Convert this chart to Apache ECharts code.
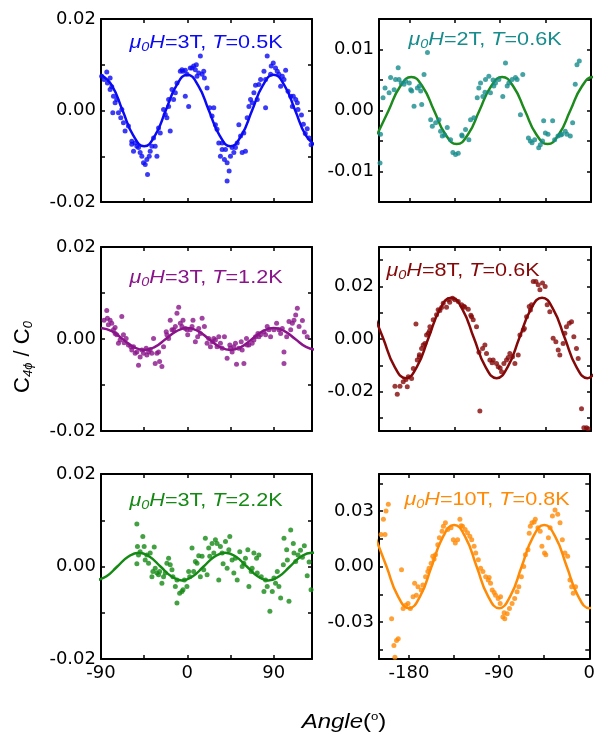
<!DOCTYPE html>
<html>
<head>
<meta charset="utf-8">
<script src="https://cdn.jsdelivr.net/npm/echarts@6/dist/echarts.min.js"></script>
<style>
  html, body { margin: 0; padding: 0; background: #fff; }
  #chart { width: 598px; height: 738px; }
</style>
</head>
<body>
<div id="chart"></div>
<script>
// ---- data ----
// fit curves [angle, C4phi/C0]
const fit1 = [[-90,0.0078],[-78.75,0.0055],[-67.5,0],[-56.25,-0.0055],[-45,-0.0078],[-33.75,-0.0055],[-22.5,0],[-11.25,0.0055],[0,0.0078],[11.25,0.0055],[22.5,0],[33.75,-0.0055],[45,-0.0078],[56.25,-0.0055],[67.5,0],[78.75,0.0055],[90,0.0078],[101.25,0.0055],[112.5,0],[123.75,-0.0055],[135,-0.0078]];
const fit2 = [[-211.75,-0.0039],[-200.5,0],[-189.25,0.0039],[-178,0.0055],[-166.75,0.0039],[-155.5,0],[-144.25,-0.0039],[-133,-0.0055],[-121.75,-0.0039],[-110.5,0],[-99.25,0.0039],[-88,0.0055],[-76.75,0.0039],[-65.5,0],[-54.25,-0.0039],[-43,-0.0055],[-31.75,-0.0039],[-20.5,0],[-9.25,0.0039],[2,0.0055],[13.25,0.0039]];
const fit3 = [[-90,0.0024],[-78.75,0.0017],[-67.5,0],[-56.25,-0.0017],[-45,-0.0024],[-33.75,-0.0017],[-22.5,0],[-11.25,0.0017],[0,0.0024],[11.25,0.0017],[22.5,0],[33.75,-0.0017],[45,-0.0024],[56.25,-0.0017],[67.5,0],[78.75,0.0017],[90,0.0024],[101.25,0.0017],[112.5,0],[123.75,-0.0017],[135,-0.0024]];
const fit4 = [[-217.25,0.0112],[-206,0.0004],[-194.75,-0.0104],[-183.5,-0.0149],[-172.25,-0.0104],[-161,0.0004],[-149.75,0.0112],[-138.5,0.0157],[-127.25,0.0112],[-116,0.0004],[-104.75,-0.0104],[-93.5,-0.0149],[-82.25,-0.0104],[-71,0.0004],[-59.75,0.0112],[-48.5,0.0157],[-37.25,0.0112],[-26,0.0004],[-14.75,-0.0104],[-3.5,-0.0149],[7.75,-0.0104]];
const fit5 = [[-95.5,-0.003],[-84.25,-0.0021],[-73,0],[-61.75,0.0021],[-50.5,0.003],[-39.25,0.0021],[-28,0],[-16.75,-0.0021],[-5.5,-0.003],[5.75,-0.0021],[17,0],[28.25,0.0021],[39.5,0.003],[50.75,0.0021],[62,0],[73.25,-0.0021],[84.5,-0.003],[95.75,-0.0021],[107,0],[118.25,0.0021],[129.5,0.003],[140.75,0.0021]];
const fit6 = [[-213.75,0.0159],[-202.5,0],[-191.25,-0.0159],[-180,-0.0225],[-168.75,-0.0159],[-157.5,0],[-146.25,0.0159],[-135,0.0225],[-123.75,0.0159],[-112.5,0],[-101.25,-0.0159],[-90,-0.0225],[-78.75,-0.0159],[-67.5,0],[-56.25,0.0159],[-45,0.0225],[-33.75,0.0159],[-22.5,0],[-11.25,-0.0159],[0,-0.0225],[11.25,-0.0159]];

// measured points [angle, C4phi/C0]
const dots1 = [[-84,0.0084],[-80.5,0.0071],[-83.3,0.006],[-78.8,0.0052],[-77,0.0031],[-73.6,0.0024],[-77.7,-0.0005],[-71.8,-0.0005],[-69.4,-0.0016],[-66.6,-0.0027],[-64.9,-0.0045],[-61.4,-0.0034],[-57.9,-0.0067],[-56.1,-0.0089],[-52.6,-0.0078],[-49.2,-0.0092],[-45.7,-0.0114],[-43.9,-0.0118],[-41.5,-0.014],[-38.7,-0.0089],[-35.2,-0.006],[-33.5,-0.0078],[-31.7,-0.01],[-28.2,-0.0049],[-24.8,0.0002],[-21.3,-0.0016],[-19.5,0.0009],[-17.8,-0.0045],[-16,0.0046],[-14.3,0.0024],[-10.8,0.006],[-7.3,0.0086],[-5.6,0.0089],[-2.1,0.0031],[-0.3,0.0079],[1.4,0.0009],[3.1,0.0093],[6.6,0.0097],[9.4,0.01],[11.9,0.0082],[13.6,0.0119],[17.1,0.0086],[20.6,0.0049],[23.4,0.0006],[27.6,0.0006],[31,-0.0041],[32.8,-0.0071],[34.5,-0.01],[36.3,-0.0085],[38.7,-0.0107],[41.5,-0.0114],[43.6,-0.0132],[41.5,-0.0154],[45,-0.01],[48.5,-0.0092],[50.2,-0.0081],[53.7,-0.0031],[57.2,-0.0092],[60.6,-0.0089],[62.4,-0.0016],[64.2,0.0009],[65.9,0.0024],[69.4,0.0039],[71.1,0.0055],[72.9,0.0024],[76.4,0.0068],[79.9,0.0086],[81.6,0.0006],[83.3,0.0119],[86.8,0.0079],[89.6,0.0104],[92,0.0093],[95.5,0.0079],[97.3,0.0053],[102.5,0.0088],[100.8,0.0068],[105,0.0042],[107.8,0.0031],[109.5,0.0009],[113,0.0024],[115.4,0.0002],[119,-0.001],[121,-0.003],[123,-0.005],[125,-0.004],[127,-0.006],[129,-0.0075],
  [-4.5,0.0086],[-2.1,0.0088],[4.9,0.0093],[8.4,0.0089],[10.1,0.0075],[15.4,0.0079],[17.8,0.0071],[-12.5,0.0039],[-19.5,0.0024],[-23,-0.0009],[-30,-0.0038],[-57.9,-0.0074],[-54.4,-0.0071],[-50.9,-0.0081],[-47.4,-0.01],[-42.2,-0.0107],[-39.7,-0.01],[-36.9,-0.0078],[-68.3,0.0002],[-75.3,0.0017],[-80.5,0.0046],[-86.8,0.0068],[-89.3,0.0075],[25.8,-0.0012],[29.3,-0.0031],[36.3,-0.0071],[39.8,-0.0085],[46.7,-0.0081],[52,-0.0071],[55.5,-0.0056],[58.9,-0.0049],[67.6,0.0017],[74.6,0.0057],[81.6,0.0068],[87.5,0.0097],[93.8,0.0086],[99,0.0075],[110.5,0.0031],[114.7,0.0017]];
const dots2 = [[-209,-0.0086],[-208.5,-0.0039],[-206,0.0021],[-204,0.0037],[-200,0.0029],[-198.5,0.0054],[-195,0.0034],[-193.6,0.0051],[-191,0.007],[-190.2,0.0051],[-185.2,0.0043],[-183.6,0.0048],[-178.6,0.0034],[-177.6,0.0032],[-175.3,0.0007],[-172,0.0037],[-168.7,0.0032],[-167.7,0.001],[-165.4,0.0059],[-162,0.0095],[-158.8,-0.0015],[-157.2,-0.0026],[-153.9,-0.002],[-150.6,-0.0015],[-149,-0.0034],[-147.3,-0.0042],[-142.4,-0.0028],[-139.1,-0.0048],[-136.8,-0.0069],[-134.2,-0.0072],[-131.5,-0.007],[-127.6,-0.0042],[-124.3,-0.0031],[-121,-0.0048],[-119.3,-0.0015],[-116,-0.0012],[-112.7,0.0021],[-111.1,0.0037],[-109.4,0.0045],[-107.1,0.0023],[-104.5,0.0051],[-101.2,0.0056],[-99.6,0.0029],[-96.3,0.004],[-94.6,0.0045],[-91.3,0.0051],[-87.4,0.0023],[-84.7,0.0078],[-81.4,0.0045],[-78.1,0.0051],[-74.8,0.0054],[-73.2,0.0051],[-69.9,-0.0007],[-67.6,0.0059],[-60.1,-0.005],[-58.4,-0.0053],[-55.8,-0.0048],[-51.8,-0.0061],[-50.2,-0.0056],[-46.9,-0.0017],[-45.2,-0.0037],[-42.6,-0.0039],[-38,-0.0017],[-36,-0.0048],[-32.7,-0.0042],[-28.8,-0.0039],[-25.5,-0.0034],[-23.8,-0.0039],[-20.5,-0.0042],[-18.2,-0.002],[-15.6,0.0043],[-13.9,0.0075],[-11.6,0.0081],
  [-188,0.0045],[-180,0.0045],[-170,0.004],[-145,-0.004],[-128,-0.004],[-105,0.003],[-97,0.005],[-83,0.004],[-62,-0.0045],[-48,-0.005],[-30,-0.004]];
const dots3 = [[-84,0.0062],[-83.3,0.0045],[-80.5,0.0041],[-78.8,0.0034],[-77,0.002],[-75.3,0.0025],[-73.6,0.0009],[-71.8,-0.0009],[-68.3,0.0049],[-66.6,0.0009],[-63.8,0.0001],[-61.4,-0.0013],[-57.9,-0.0024],[-56.1,-0.0017],[-52.6,-0.0028],[-50.9,-0.0057],[-49.2,-0.0039],[-45.7,-0.0031],[-42.9,-0.002],[-40.4,-0.0028],[-37,-0.0031],[-35.2,0.0001],[-33.5,-0.0053],[-31.7,-0.0031],[-28.9,-0.0049],[-26.5,-0.006],[-24.8,-0.0017],[-22,0.0016],[-19.5,0.0001],[-17.8,0.0041],[-14.3,0.002],[-10.8,0.0056],[-9,0.0069],[-7.3,0.0034],[-4.5,0.0041],[-2.1,0.0023],[0.4,0.0009],[3.1,0.002],[5.9,0.0041],[8.4,-0.0006],[10.8,0.0005],[13.6,0.0012],[15.4,0.0045],[17.8,0.0027],[20.6,-0.0009],[24.1,-0.0017],[27.6,0.0001],[29.3,-0.0002],[32.8,0.0005],[34.5,-0.0009],[36.3,-0.002],[38.7,0.0005],[41.5,-0.0042],[44.3,-0.0013],[46.7,-0.0028],[48.5,-0.0017],[51.3,-0.0055],[53.7,-0.002],[56.2,-0.0006],[59,-0.0053],[61.7,0.0001],[64.2,-0.0013],[67.6,-0.0009],[71.1,0.0005],[73.6,0.0012],[76.4,0.0009],[79.9,0.0016],[83.3,0.0027],[86.8,0.0005],[90.3,0.002],[93.1,0.0034],[95.5,0.002],[99,0.0023],[100.8,-0.0028],[100.8,-0.0053],[103.6,0.0005],[106,0.0038],[107.8,0.002],[111.2,0.0041],[113,0.0052],[114.7,0.0067],[116.5,0.0027],[120,0.004],[122,0.0015],[125,0.0005],
  [-86.8,0.0041],[-82.3,0.0031],[-75.3,0.0012],[-70.1,-0.0002],[-65.9,-0.0008],[-58.9,-0.0017],[-54.4,-0.0031],[-47.4,-0.0024],[-42.2,-0.0035],[-38.7,-0.0023],[-30,-0.0028],[-21.3,0.0009],[-16,0.002],[-12.5,0.0027],[-5.6,0.0027],[-0.3,0.002],[4.9,0.0027],[11.9,0.0023],[22.3,0.0001],[25.8,-0.0006],[31,-0.0017],[45,-0.002],[50.2,-0.0009],[57.2,-0.0024],[62.4,-0.0013],[69.4,-0.0002],[74.6,0.0005],[81.6,0.0009],[85.1,0.002],[97.3,0.0012],[109.5,0.0034]];
const dots4 = [[-194.2,-0.018],[-191.9,-0.021],[-189.2,-0.018],[-186,-0.0163],[-183.3,-0.0154],[-182,-0.0182],[-181,-0.0144],[-177.7,-0.015],[-176,-0.0112],[-173.4,0.0057],[-172.1,-0.008],[-170.1,-0.0068],[-167.8,-0.0036],[-166.2,-0.0023],[-164.5,-0.0017],[-162.9,0.0015],[-161.2,0.0022],[-159.6,0.0047],[-156.3,0.0073],[-153,0.0092],[-151.4,0.0111],[-149.7,0.0108],[-146.4,0.0136],[-143.1,0.0121],[-141.4,0.0149],[-137.1,0.0155],[-134.8,0.0149],[-131.5,0.0143],[-128.2,0.013],[-124.9,0.0121],[-121.6,0.0113],[-118.3,0.0085],[-116.7,0.0073],[-113.4,0.0047],[-110.1,-0.0274],[-107.4,-0.0036],[-105.1,-0.0023],[-103.5,-0.0055],[-100.2,-0.008],[-96.9,-0.008],[-93.6,-0.0093],[-91.9,-0.0106],[-88.6,-0.0125],[-86.3,-0.0093],[-83.7,-0.008],[-80.4,-0.0055],[-77.7,-0.0068],[-75.4,-0.0093],[-72.1,-0.0061],[-70.4,0.0015],[-67.1,0.0034],[-63.8,0.0085],[-61.2,0.0124],[-58.9,0.013],[-57.2,0.0219],[-54.6,0.0219],[-52.3,0.0206],[-50.6,0.0187],[-48,0.0213],[-45.4,0.02],[-43.4,0.013],[-40.8,0.0104],[-37.5,0.0003],[-34.8,-0.001],[-32.5,-0.0042],[-30.9,-0.0061],[-27.6,-0.0017],[-25.9,0.0022],[-24.3,0.0047],[-21.6,0.006],[-19.3,0.0066],[-17,0.0009],[-14.4,-0.0036],[-12.7,-0.0074],[-9.4,-0.0265],[-7.1,-0.0338],[-4.5,-0.0338],[-2.8,-0.0341],
  [-170,-0.006],[-160,0.003],[-148,0.012],[-140,0.014],[-126,0.0125],[-119,0.009],[-111,-0.005],[-98,-0.009],[-90,-0.011],[-82,-0.007],[-66,0.004],[-60,0.011]];
const dots5 = [[-52.6,0.0092],[-52,0.0043],[-50.9,0.0025],[-52.6,0.0006],[-46.4,0.0065],[-45,0.0043],[-42.2,0.0025],[-40.4,0.0007],[-38.7,0.0029],[-36.9,-0.0022],[-34.5,0.0042],[-33.5,-0.0004],[-31.7,-0.0014],[-28.9,-0.0011],[-26.5,-0.0036],[-24.8,-0.0022],[-21.3,0.0007],[-19.5,0.0018],[-17.8,0.0004],[-15,-0.0022],[-12.5,-0.0043],[-10.8,-0.0079],[-8,-0.0058],[-5.6,-0.0054],[-3.1,-0.0029],[-0.4,-0.0043],[2.5,-0.0022],[4.9,0.004],[6.6,-0.0011],[10.1,0.0007],[11.9,0.0023],[13.6,-0.0022],[17.1,-0.0007],[18.8,0.0061],[20.6,-0.0018],[23.4,0.0022],[25.8,0.005],[29.3,0.0058],[32.8,-0.0029],[34.5,0.0043],[37.3,0.0006],[39.8,0.0054],[41.5,-0.0004],[44.3,0.0065],[46.7,0.0014],[48.5,-0.0014],[52,-0.0029],[54.7,0.0032],[57.2,0],[60.6,0.0018],[63.1,0.0036],[64.2,-0.0043],[66.6,-0.0011],[69.4,0.0029],[72.2,0.0018],[74.6,0.0025],[77.1,-0.0022],[79.9,-0.0054],[83.3,-0.0043],[86.1,-0.0097],[88.6,-0.0054],[92,-0.0036],[95.5,-0.0043],[97.3,-0.0068],[100.1,0.0004],[100.8,0.0061],[103.6,0.0036],[106,-0.0075],[107.8,0.0079],[110.5,0.005],[113,0.0011],[115.4,0.0025],[118,0.0035],[120,0.002],[122,0.0045],[125,-0.002],[127,0.001],[129,-0.005],
  [-49.2,0.0032],[-43.9,0.0014],[-35.9,-0.0011],[-30,-0.0018],[-23,-0.0014],[-16,-0.0007],[-10.8,-0.0029],[-4.5,-0.005],[1.4,-0.0011],[8.4,0.0011],[15.4,0.0022],[22.3,0.004],[27.6,0.0029],[31,0.005],[36.3,0.0029],[43.3,0.0036],[50.2,0.0018],[58.9,0.0007],[67.6,-0.0004],[72.9,-0.0014],[81.6,-0.0029],[90.3,-0.0025],[93.8,-0.0011],[104.3,0.0014],[111.2,0.0029]];
const dots6 = [[-208,0.0173],[-205.6,0.0255],[-204,0.0173],[-203,0.03],[-200.7,0.0336],[-197.4,-0.0282],[-195.1,-0.0427],[-192.5,-0.04],[-190.8,-0.0391],[-194.1,-0.049],[-187.5,-0.0018],[-185.9,-0.0227],[-183.3,-0.0209],[-181,-0.02],[-178.7,-0.0227],[-176,-0.0164],[-174.4,-0.0091],[-172.7,-0.0155],[-171.1,-0.0109],[-167.8,-0.0127],[-166.2,-0.01],[-163.5,-0.0055],[-161.2,-0.0027],[-157.9,0.0018],[-156.3,0.0055],[-153.6,0.0064],[-151.3,0.0118],[-149.7,0.0155],[-147,0.0191],[-145.7,0.0218],[-143.7,0.0236],[-141.4,0.02],[-138.1,0.0209],[-135.8,0.0145],[-133.8,0.0127],[-131.5,0.0145],[-129.2,0.0255],[-126.6,0.0218],[-124,0.02],[-121.6,0.0182],[-119.3,0.0164],[-117.4,0.0145],[-115,0.0109],[-113.4,0.0073],[-110.8,0.0036],[-108.5,-0.0009],[-106.2,-0.0027],[-103.5,-0.0055],[-100.9,-0.0073],[-98.6,-0.0091],[-96.9,-0.0127],[-93.6,-0.0155],[-91,-0.0173],[-88.6,-0.0164],[-86.3,-0.0273],[-84.4,-0.0282],[-82,-0.0255],[-79.7,-0.0227],[-77.1,-0.02],[-74.5,-0.0173],[-72.1,-0.0136],[-70.4,-0.0109],[-67.8,-0.0055],[-65.5,0],[-63.8,0.0064],[-61.2,0.0091],[-58.9,0.0218],[-57.2,0.0236],[-53.9,0.0255],[-51.3,0.0209],[-49,0.0191],[-47.3,0.0109],[-44.7,0.0073],[-43.4,0.0064],[-40.8,0.0155],[-39.1,0.0209],[-36.8,0.0273],[-34.2,0.0305],[-31.5,0.0282],[-29.2,0.0236],[-26.9,0.0145],[-24.3,0.0073],[-21.6,0.0055],[-19.3,-0.0073],[-17.6,-0.0109],[-16,-0.0145],[-13.7,-0.0109],
  [-160,-0.001],[-155,0.004],[-128,0.022],[-60,0.018],[-55,0.024],[-100,-0.006],[-95,-0.014],[-89,-0.02],[-85,-0.025]];

// axis ranges and ticks
const xLeft = [-90, 130], xLeftTicks = [-90, -45, 0, 45, 90], xLeftLabels = [-90, 0, 90];
const xRight = [-210, 0], xRightTicks = [-180, -135, -90, -45, 0], xRightLabels = [-180, -90, 0];
const y2 = [-0.02, 0.02], y2Ticks = [-0.02, -0.01, 0, 0.01, 0.02], y2Labels = [-0.02, 0, 0.02];
const y15 = [-0.015, 0.015], y15Ticks = [-0.015, -0.01, -0.005, 0, 0.005, 0.01, 0.015], y15Labels = [-0.01, 0, 0.01];
const y35 = [-0.035, 0.035], y35Ticks = [-0.03, -0.02, -0.01, 0, 0.01, 0.02, 0.03], y35Labels = [-0.02, 0, 0.02];
const y5 = [-0.05, 0.05], y5Ticks = [-0.045, -0.03, -0.015, 0, 0.015, 0.03, 0.045], y5Labels = [-0.03, 0, 0.03];

// field / temperature of each panel
const fields = ['3T', '2T', '3T', '8T', '3T', '10T'];
const temps = ['0.5K', '0.6K', '1.2K', '0.6K', '2.2K', '0.8K'];

// ---- layout ----
const panels = [
  { grid: {left: 101, top: 19, width: 211, height: 183}, x: xLeft, xt: xLeftTicks, xl: xLeftLabels, y: y2, yt: y2Ticks, yl: y2Labels, dots: dots1, fit: fit1, dotColor: '#0a0af5', lineColor: '#0a0af5', tx: 206, ty: 43, bottom: false },
  { grid: {left: 379, top: 19, width: 212, height: 183}, x: xRight, xt: xRightTicks, xl: xRightLabels, y: y15, yt: y15Ticks, yl: y15Labels, dots: dots2, fit: fit2, dotColor: '#168c8c', lineColor: '#1c8a1c', tx: 485, ty: 40, bottom: false },
  { grid: {left: 101, top: 247, width: 211, height: 184}, x: xLeft, xt: xLeftTicks, xl: xLeftLabels, y: y2, yt: y2Ticks, yl: y2Labels, dots: dots3, fit: fit3, dotColor: '#8a148a', lineColor: '#8a148a', tx: 206, ty: 278, bottom: false },
  { grid: {left: 379, top: 247, width: 212, height: 184}, x: xRight, xt: xRightTicks, xl: xRightLabels, y: y35, yt: y35Ticks, yl: y35Labels, dots: dots4, fit: fit4, dotColor: '#850808', lineColor: '#850808', tx: 463, ty: 271, bottom: false },
  { grid: {left: 101, top: 474, width: 211, height: 185}, x: xLeft, xt: xLeftTicks, xl: xLeftLabels, y: y2, yt: y2Ticks, yl: y2Labels, dots: dots5, fit: fit5, dotColor: '#148a14', lineColor: '#148a14', tx: 206, ty: 501, bottom: true },
  { grid: {left: 379, top: 474, width: 212, height: 185}, x: xRight, xt: xRightTicks, xl: xRightLabels, y: y5, yt: y5Ticks, yl: y5Labels, dots: dots6, fit: fit6, dotColor: '#ff8a05', lineColor: '#ff8a05', tx: 487, ty: 500, bottom: true },
];

const tickFont = 'DejaVu Sans';
const textFont = 'Liberation Sans';

function axisCommon(pos) {
  return {
    type: 'value',
    position: pos,
    splitLine: { show: false },
    axisLine: { show: true, onZero: false, lineStyle: { color: '#000', width: 2 } },
  };
}

let grids = [], xAxes = [], yAxes = [], series = [], graphics = [];

panels.forEach((p, i) => {
  grids.push(p.grid);
  // bottom + top x axes
  xAxes.push(Object.assign(axisCommon('bottom'), {
    gridIndex: i, min: p.x[0], max: p.x[1],
    axisTick: { inside: true, length: 4, customValues: p.xt, lineStyle: { color: '#000', width: 1.5 } },
    axisLabel: { show: p.bottom, customValues: p.xl, color: '#000', fontSize: 18, fontFamily: tickFont, margin: 5 },
  }));
  xAxes.push(Object.assign(axisCommon('top'), {
    gridIndex: i, min: p.x[0], max: p.x[1],
    axisTick: { inside: true, length: 4, customValues: p.xt, lineStyle: { color: '#000', width: 1.5 } },
    axisLabel: { show: false },
  }));
  yAxes.push(Object.assign(axisCommon('left'), {
    gridIndex: i, min: p.y[0], max: p.y[1],
    axisTick: { inside: true, length: 4, customValues: p.yt, lineStyle: { color: '#000', width: 1.5 } },
    axisLabel: { customValues: p.yl, color: '#000', fontSize: 18, fontFamily: tickFont, margin: 5,
      formatter: v => Number(v).toFixed(2) },
  }));
  yAxes.push(Object.assign(axisCommon('right'), {
    gridIndex: i, min: p.y[0], max: p.y[1],
    axisTick: { inside: true, length: 4, customValues: p.yt, lineStyle: { color: '#000', width: 1.5 } },
    axisLabel: { show: false },
  }));

  series.push({
    type: 'line', xAxisIndex: 2 * i, yAxisIndex: 2 * i, data: p.fit,
    smooth: true, showSymbol: false, clip: true,
    lineStyle: { color: p.lineColor, width: 2.5 }, z: 2,
  });
  series.push({
    type: 'scatter', xAxisIndex: 2 * i, yAxisIndex: 2 * i, data: p.dots,
    symbolSize: 5, itemStyle: { color: p.dotColor }, z: 3,
  });

  const c = p.dotColor;
  graphics.push({
    type: 'text', x: p.tx, y: p.ty, scaleX: 1.2, z: 10,
    style: {
      text: '{i|μ}{s|0}{i|H}{n|=' + fields[i] + ', }{i|T}{n|=' + temps[i] + '}',
      align: 'center', verticalAlign: 'middle', fill: c,
      rich: {
        i: { fontFamily: textFont, fontSize: 18, fontStyle: 'italic', fill: c },
        n: { fontFamily: textFont, fontSize: 18, fill: c },
        s: { fontFamily: textFont, fontSize: 12, fontStyle: 'italic', fill: c, padding: [10, 0, 0, 0] },
      },
    },
  });
});

// axis names
graphics.push({
  type: 'text', x: 23, y: 357, rotation: Math.PI / 2, z: 10,
  style: {
    text: '{n|C}{s|4ϕ}{n| / C}{s|0}',
    align: 'center', verticalAlign: 'middle', fill: '#000',
    rich: {
      n: { fontFamily: textFont, fontSize: 22, fill: '#000' },
      s: { fontFamily: textFont, fontSize: 13, fontStyle: 'italic', fill: '#000', padding: [11, 0, 0, 0] },
    },
  },
});
graphics.push({
  type: 'text', x: 344, y: 722, scaleX: 1.2, z: 10,
  style: {
    text: '{i|Angle}{n|(}{u|o}{n|)}',
    align: 'center', verticalAlign: 'middle', fill: '#000',
    rich: {
      i: { fontFamily: textFont, fontSize: 20, fontStyle: 'italic', fill: '#000' },
      n: { fontFamily: textFont, fontSize: 20, fill: '#000' },
      u: { fontFamily: textFont, fontSize: 11, fill: '#000', padding: [0, 0, 10, 0] },
    },
  },
});

const chart = echarts.init(document.getElementById('chart'));
chart.setOption({
  animation: false,
  backgroundColor: '#fff',
  grid: grids,
  xAxis: xAxes,
  yAxis: yAxes,
  series: series,
  graphic: graphics,
});
</script>
</body>
</html>
